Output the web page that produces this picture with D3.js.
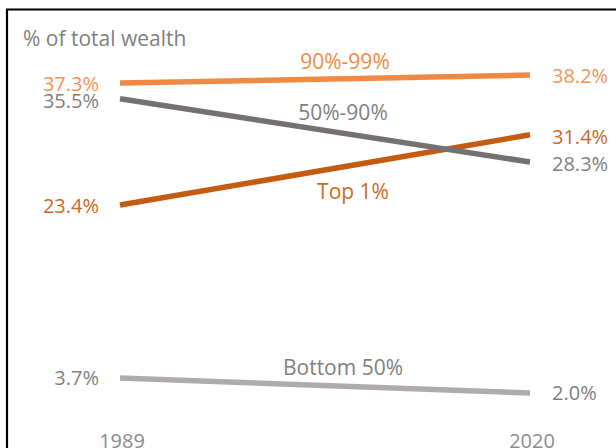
<!DOCTYPE html>
<html><head><meta charset="utf-8">
<script src="https://cdn.jsdelivr.net/npm/d3@7"></script>
<style>body{margin:0;background:#fff}svg{display:block}text{font-family:"Open Sans",sans-serif}</style>
</head><body>
<script>
const years = ["1989", "2020"];
const groups = ["Top 1%", "90%-99%", "50%-90%", "Bottom 50%"];
const start1989 = [23.4, 37.3, 35.5, 3.7];
const end2020 = [31.4, 38.2, 28.3, 2.0];
const lineColors = ["#c55a11", "#f08a43", "#767171", "#afabab"];
const valueColors = ["#c9692a", "#f29454", "#7f7f7f", "#7f7f7f"];
const nameColors = ["#c9692a", "#f08a43", "#7f7f7f", "#7f7f7f"];
const axisTitle = "% of total wealth";

const W = 616, H = 448;
const svg = d3.select("body").append("svg").attr("width", W).attr("height", H);

const x = d3.scalePoint().domain(years).range([120, 530]);
const y = d3.scaleLinear().domain([0, 40]).range([410.5, 59.3]);

// frame
svg.append("path").attr("d", `M7,${H} L7,9.5 L${W},9.5`).attr("fill", "none").attr("stroke", "#000").attr("stroke-width", 2.2);

svg.append("text").attr("x", 23).attr("y", 46).attr("font-size", 21).attr("fill", "#808080").text(axisTitle);

const data = groups.map((g, i) => ({g, i, v: [start1989[i], end2020[i]]}));
const line = d3.line().x((d, j) => x(years[j])).y(d => y(d));

svg.selectAll("path.series").data(data).join("path").attr("class", "series")
  .attr("d", d => line(d.v)).attr("fill", "none")
  .attr("stroke", d => lineColors[d.i]).attr("stroke-width", 5.5);

const leftOff = {"Top 1%": 8, "90%-99%": 8, "50%-90%": 9, "Bottom 50%": 7};
const rightOff = {"Top 1%": 9, "90%-99%": 8, "50%-90%": 9, "Bottom 50%": 7};

// left value labels
svg.selectAll("text.lv").data(data).join("text").attr("class", "lv")
  .attr("x", 99).attr("y", d => y(d.v[0]) + leftOff[d.g])
  .attr("text-anchor", "end").attr("font-size", 20).attr("fill", d => valueColors[d.i])
  .text(d => d.v[0].toFixed(1) + "%");

// right value labels
svg.selectAll("text.rv").data(data).join("text").attr("class", "rv")
  .attr("x", 552).attr("y", d => y(d.v[1]) + rightOff[d.g])
  .attr("font-size", 20).attr("fill", d => valueColors[d.i])
  .text(d => d.v[1].toFixed(1) + "%");

// series names
const nameOffsets = {"90%-99%": [345, -10], "50%-90%": [343, -13], "Top 1%": [353, 34], "Bottom 50%": [343, -11]};
svg.selectAll("text.nm").data(data).join("text").attr("class", "nm")
  .attr("x", d => nameOffsets[d.g][0])
  .attr("y", d => {
    const t = (nameOffsets[d.g][0] - 120) / 410;
    return y(d.v[0] + (d.v[1] - d.v[0]) * t) + nameOffsets[d.g][1];
  })
  .attr("text-anchor", "middle").attr("font-size", 21).attr("fill", d => nameColors[d.i])
  .text(d => d.g);

// year axis labels
svg.selectAll("text.yr").data(years).join("text").attr("class", "yr")
  .attr("x", d => x(d) + 2).attr("y", 448).attr("text-anchor", "middle")
  .attr("font-size", 20).attr("fill", "#8c8c8c").text(d => d);
</script>
</body></html>
